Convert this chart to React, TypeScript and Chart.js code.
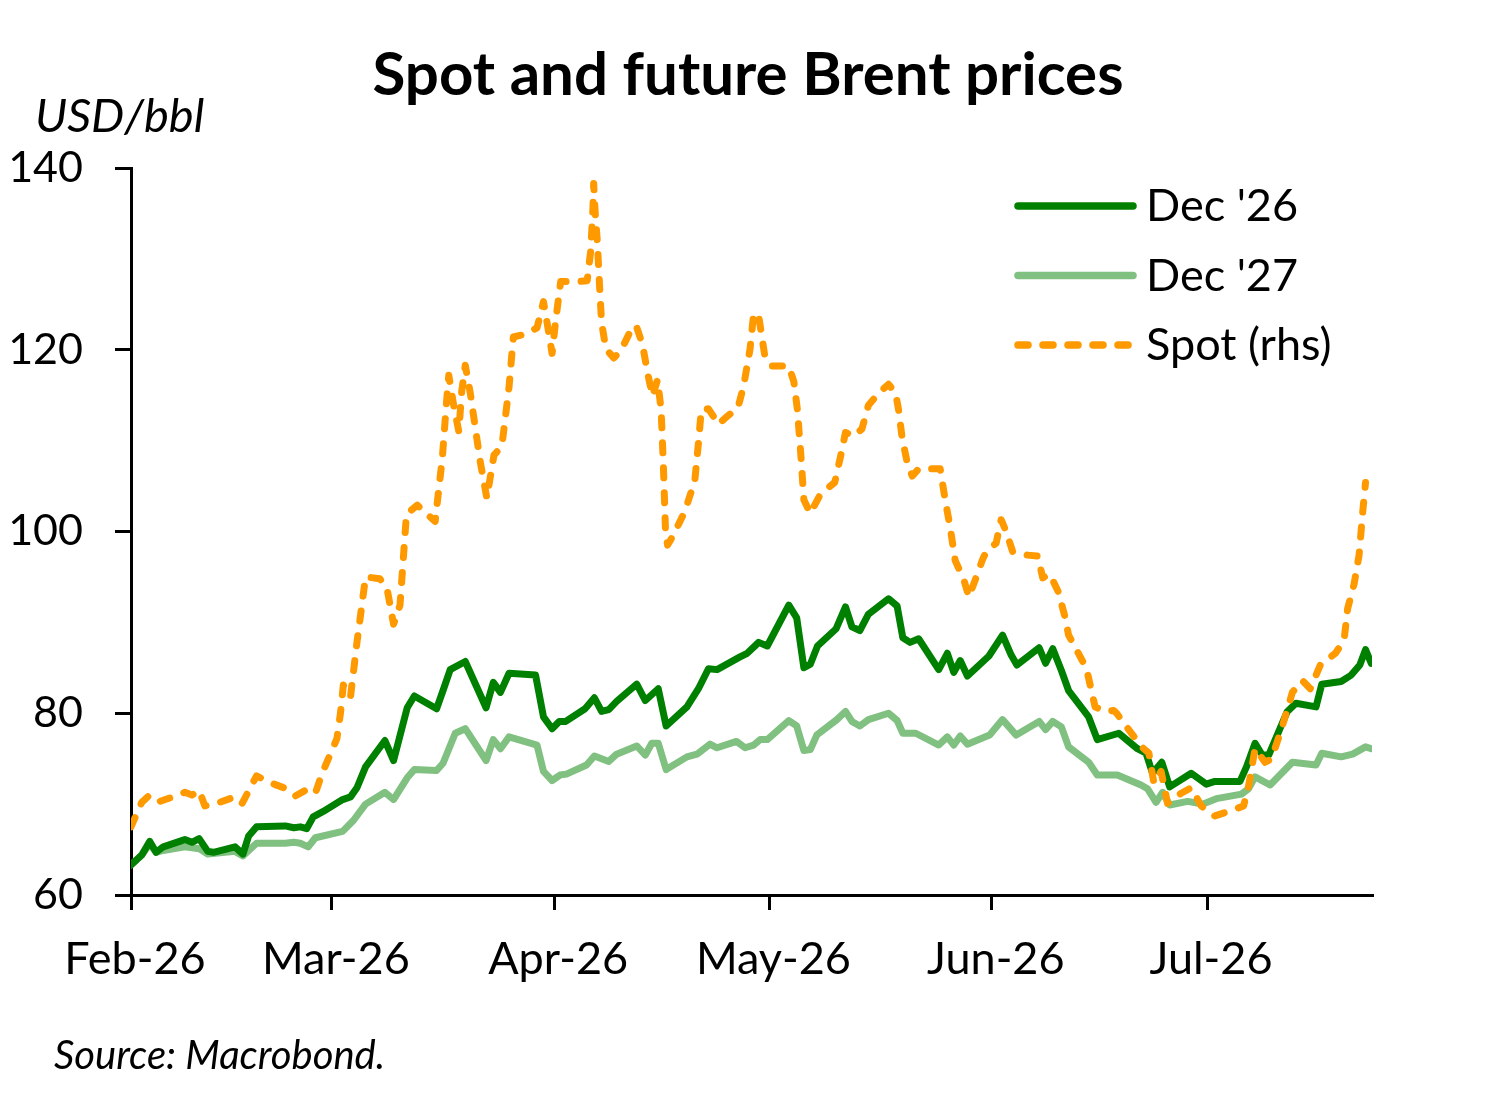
import { useEffect, useRef } from 'react';
import { Chart, registerables } from 'chart.js';

Chart.register(...registerables);

const FONT = 'Lato, "Open Sans", sans-serif';

const titleText = 'Spot and future Brent prices';
const unitText = 'USD/bbl';
const sourceText = 'Source: Macrobond.';

// x values are days counted from 1 Feb 2026
const monthTicks = [0, 28, 59, 89, 120, 150];
const monthLabels = ['Feb-26', 'Mar-26', 'Apr-26', 'May-26', 'Jun-26', 'Jul-26'];
const yTicks = [60, 80, 100, 120, 140];

const dec26Days = [
  0, 1.5, 2.6, 3.5, 4.5, 7.5, 8.5, 9.5, 10.7, 11.5, 14.5, 15.6, 16.4, 17.5, 21.5, 22.7, 23.6, 24.5,
  25.4, 26.8, 29.5, 30.6, 31.5, 32.7, 35.4, 36.6, 38.5, 39.5, 42.6, 43.5, 44.5, 46.6, 49.5, 50.5,
  51.5, 52.7, 56.4, 57.5, 58.7, 59.7, 60.6, 63.3, 64.6, 65.6, 66.6, 67.7, 70.5, 71.7, 73.5, 74.6,
  77.5, 79.1, 80.5, 81.7, 84.9, 85.9, 87.5, 88.7, 91.7, 92.8, 93.8, 94.7, 95.7, 98.3, 99.6, 100.5,
  101.6, 102.8, 105.6, 106.8, 107.6, 108.6, 109.8, 112.6, 113.8, 114.7, 115.6, 116.6, 119.6, 121.5,
  122.7, 123.5, 126.6, 127.5, 128.5, 129.7, 130.7, 133.5, 134.7, 137.7, 140.3, 141.5, 142.4, 143.7,
  144.8, 147.8, 149.9, 151.1, 154.6, 155.5, 156.7, 157.7, 158.6, 159.9, 161.2, 162.4, 165.2, 166.0,
  168.7, 170.1, 171.3, 172.1, 172.9,
];
const dec26Values = [
  63.3, 64.4, 65.9, 64.7, 65.3, 66.1, 65.8, 66.2, 64.8, 64.7, 65.3, 64.5, 66.5, 67.5, 67.6, 67.4, 67.5, 67.3,
  68.6, 69.2, 70.5, 70.8, 71.8, 74.1, 77.0, 74.8, 80.6, 81.9, 80.5, 82.5, 84.8, 85.7, 80.6, 83.4,
  82.3, 84.4, 84.2, 79.6, 78.3, 79.1, 79.1, 80.5, 81.7, 80.2, 80.4, 81.3, 83.2, 81.4, 82.7, 78.6,
  80.7, 82.7, 84.9, 84.8, 86.2, 86.6, 87.8, 87.4, 91.9, 90.5, 85.0, 85.4, 87.4, 89.3, 91.7, 89.5,
  89.1, 90.9, 92.6, 91.8, 88.3, 87.8, 88.2, 84.8, 86.6, 84.5, 85.8, 84.1, 86.3, 88.6,
  86.4, 85.3, 87.2, 85.5, 87.1, 84.7, 82.5, 79.6, 77.1, 77.8, 76.1, 75.6, 73.4, 74.6,
  71.9, 73.4, 72.2, 72.5, 72.5, 74.1, 76.7, 75.4, 75.4, 77.8, 80.2, 81.1, 80.7, 83.2,
  83.5, 84.2, 85.3, 87.0, 85.5,
];

const dec27Days = [
  0, 1.5, 2.6, 3.5, 4.5, 7.5, 9.5, 10.7, 14.5, 15.6, 17.5, 21.5, 22.7, 23.6, 24.7, 25.7, 29.5, 31.0,
  32.7, 35.4, 36.6, 38.5, 39.5, 42.6, 43.5, 45.2, 46.6, 49.5, 50.5, 51.5, 52.7, 56.6, 57.5, 58.7,
  59.8, 60.7, 63.5, 64.6, 66.6, 67.7, 70.5, 71.7, 72.6, 73.5, 74.6, 77.5, 78.9, 80.7, 81.7, 84.4,
  85.6, 86.8, 87.7, 88.7, 91.7, 92.8, 93.8, 94.7, 95.6, 98.4, 99.6, 100.5, 101.6, 102.8, 105.6,
  106.8, 107.6, 109.4, 112.6, 113.8, 114.7, 115.6, 116.6, 119.7, 121.5, 123.4, 126.6, 127.5, 128.5,
  129.7, 130.7, 133.5, 134.7, 137.5, 140.8, 141.7, 142.9, 143.8, 144.8, 147.3, 149.4, 151.3, 154.8,
  155.8, 156.7, 158.8, 161.9, 165.2, 166.0, 168.7, 170.3, 172.1, 172.9,
];
const dec27Values = [
  63.3, 64.4, 65.6, 64.7, 64.9, 65.3, 65.1, 64.5, 64.8, 64.3, 65.7, 65.7, 65.8, 65.7, 65.3, 66.3, 67.0, 68.2,
  70.0, 71.3, 70.5, 72.9, 73.8, 73.7, 74.5, 77.8, 78.3, 74.8, 77.1, 76.1, 77.4, 76.5, 73.6, 72.6,
  73.2, 73.3, 74.3, 75.3, 74.7, 75.5, 76.4, 75.4, 76.7, 76.7, 73.8, 75.2, 75.5, 76.6, 76.2, 76.9,
  76.2, 76.5, 77.1, 77.1, 79.2, 78.6, 75.9, 76.0, 77.6, 79.3, 80.2, 79.1, 78.6, 79.3, 80.0,
  79.2, 77.8, 77.8, 76.5, 77.4, 76.5, 77.5, 76.6, 77.6, 79.3, 77.6, 79.1, 78.2, 79.1,
  78.5, 76.3, 74.6, 73.2, 73.2, 72.1, 71.7, 70.2, 71.3, 69.9, 70.3, 70.0, 70.6, 71.1,
  71.7, 73.0, 72.1, 74.6, 74.3, 75.6, 75.2, 75.5, 76.3, 76.1,
];

const spotDays = [
  0, 1.5, 2.6, 4.0, 5.9, 7.5, 8.5, 9.5, 10.3, 12.0, 14.5, 15.5, 17.5, 19.6, 21.3, 22.9, 24.5, 25.7,
  26.6, 28.7, 29.2, 29.6, 30.6, 31.5, 32.7, 34.7, 35.7, 36.6, 37.5, 38.4, 39.9, 42.4, 43.4, 44.0,
  44.3, 45.0, 45.7, 46.1, 46.6, 47.3, 48.7, 49.6, 50.6, 51.7, 52.7, 53.3, 54.9, 56.6, 57.5, 58.0,
  58.7, 59.2, 59.9, 62.4, 63.6, 64.1, 64.4, 64.5, 64.7, 65.0, 65.4, 65.6, 66.2, 67.3, 68.3, 69.4,
  70.4, 71.3, 72.0, 72.7, 73.4, 73.9, 74.2, 74.5, 74.8, 75.6, 77.2, 78.6, 79.1, 79.5, 80.5, 81.9,
  83.0, 84.6, 85.4, 86.3, 86.8, 87.5, 88.4, 89.4, 91.7, 92.4, 92.9, 93.4, 93.8, 94.7, 96.1, 98.1,
  98.9, 99.6, 100.8, 101.9, 102.8, 104.2, 105.6, 106.6, 107.0, 107.5, 108.2, 108.9, 109.8, 112.8,
  113.5, 114.2, 114.9, 116.1, 116.8, 117.7, 118.7, 119.3, 120.6, 121.3, 122.0, 122.9, 125.0, 126.4,
  127.1, 128.1, 129.3, 130.2, 130.7, 131.8, 133.2, 134.4, 135.8, 137.0, 137.4, 138.8, 140.9, 141.9,
  142.6, 143.6, 144.5, 146.4, 147.8, 149.2, 151.1, 153.0, 155.1, 155.8, 156.7, 158.1, 159.0, 160.4,
  161.9, 163.3, 164.4, 165.8, 167.9, 169.1, 169.6, 170.5, 171.2, 171.7, 172.1,
];
const spotValues = [
  67.5, 70.2, 71.0, 70.3, 70.8, 71.3, 71.0, 71.5, 69.8, 70.1, 70.8, 70.1, 73.1, 72.3, 71.8, 70.9, 71.6, 71.2,
  73.3, 77.2, 80.0, 83.1, 81.8, 87.8, 95.0, 94.8, 93.7, 89.8, 91.9, 101.9, 102.9, 101.1, 108.1, 114.4,
  117.2, 113.8, 111.0, 115.4, 118.3, 115.2, 107.6, 103.7, 108.4, 109.4, 115.9, 121.4, 121.7, 122.4, 125.3, 123.0,
  119.6, 123.2, 127.5, 127.5, 127.6, 131.0, 135.7, 138.3, 135.2, 132.0, 125.8, 123.0, 120.1, 119.1, 119.9, 121.7,
  122.7, 120.6, 117.5, 114.9, 116.7, 113.4, 107.6, 100.4, 98.5, 99.6, 102.2, 105.6, 109.7, 113.4, 113.5, 111.8,
  112.6, 113.6, 116.0, 120.1, 124.0, 123.7, 119.1, 118.2, 118.2, 116.5, 113.4, 108.2, 103.5, 102.0, 104.1, 105.4,
  108.2, 110.9, 110.5, 111.3, 113.9, 115.2, 116.2, 115.2, 113.4, 110.3, 107.6, 106.1, 106.9, 106.9,
  103.5, 100.4, 96.8, 94.7, 92.8, 94.7, 96.9, 97.9, 98.7, 101.3, 100.0, 97.8, 97.4, 97.3,
  94.9, 95.3, 93.3, 90.6, 88.6, 87.0, 84.9, 80.7, 80.2, 80.3, 80.0, 78.5, 76.3, 75.6,
  72.3, 73.6, 70.1, 71.2, 71.8, 69.8, 68.7, 69.2, 69.8, 72.0, 76.1, 74.6, 75.0, 78.3,
  82.3, 83.6, 82.7, 85.3, 86.6, 88.0, 91.5, 94.2, 97.4, 102.1, 105.4,
];

const DARK_GREEN = '#008000';
const LIGHT_GREEN = '#80C080';
const ORANGE = '#FF9900';
const LINE_WIDTH = 7;
const SPOT_DASH = [10, 15];

const legendItems = [
  { label: "Dec '26", color: DARK_GREEN, dash: [] as number[] },
  { label: "Dec '27", color: LIGHT_GREEN, dash: [] as number[] },
  { label: 'Spot (rhs)', color: ORANGE, dash: SPOT_DASH },
];

const toPoints = (days: number[], values: number[]) => days.map((d, i) => ({ x: d, y: values[i] }));

const overlayPlugin = {
  id: 'overlay',
  afterDraw(chart: Chart) {
    const ctx = chart.ctx;
    ctx.save();
    ctx.fillStyle = '#000';
    ctx.textBaseline = 'alphabetic';

    ctx.textAlign = 'center';
    ctx.font = `bold 60px ${FONT}`;
    ctx.fillText(titleText, 748, 95);

    ctx.textAlign = 'left';
    ctx.font = `italic 47px ${FONT}`;
    ctx.fillText(unitText, 35, 132);

    ctx.font = `italic 40px ${FONT}`;
    ctx.fillText(sourceText, 54, 1069);

    // legend, top right inside the plot
    legendItems.forEach((item, i) => {
      const y = 206 + i * 69.5;
      ctx.beginPath();
      ctx.strokeStyle = item.color;
      ctx.lineWidth = 7.5;
      ctx.lineCap = 'round';
      ctx.setLineDash(item.dash);
      ctx.moveTo(1018, y);
      ctx.lineTo(1133, y);
      ctx.stroke();
      ctx.setLineDash([]);
      ctx.fillStyle = '#000';
      ctx.font = `45px ${FONT}`;
      ctx.fillText(item.label, 1146, y + 15);
    });
    ctx.restore();
  },
};

const BrentChart = () => {
  const canvasRef = useRef<HTMLCanvasElement | null>(null);
  const chartRef = useRef<Chart | null>(null);

  useEffect(() => {
    if (!canvasRef.current) return;
    const ctx = canvasRef.current.getContext('2d');
    if (!ctx) return;

    if (chartRef.current) chartRef.current.destroy();

    chartRef.current = new Chart(ctx, {
      type: 'line',
      data: {
        datasets: [
          {
            label: 'Spot (rhs)',
            data: toPoints(spotDays, spotValues),
            borderColor: ORANGE,
            borderWidth: LINE_WIDTH,
            borderDash: SPOT_DASH,
            borderCapStyle: 'round',
            borderJoinStyle: 'round',
            pointRadius: 0,
            tension: 0,
            order: 0,
          },
          {
            label: "Dec '26",
            data: toPoints(dec26Days, dec26Values),
            borderColor: DARK_GREEN,
            borderWidth: LINE_WIDTH,
            borderJoinStyle: 'round',
            borderCapStyle: 'round',
            pointRadius: 0,
            tension: 0,
            order: 1,
          },
          {
            label: "Dec '27",
            data: toPoints(dec27Days, dec27Values),
            borderColor: LIGHT_GREEN,
            borderWidth: LINE_WIDTH,
            borderJoinStyle: 'round',
            borderCapStyle: 'round',
            pointRadius: 0,
            tension: 0,
            order: 2,
          },
        ],
      },
      options: {
        animation: false,
        responsive: true,
        maintainAspectRatio: false,
        devicePixelRatio: 1,
        layout: { padding: { top: 168, right: 124, bottom: 0, left: 0 } },
        plugins: {
          legend: { display: false },
          title: { display: false },
          tooltip: { enabled: false },
        },
        scales: {
          x: {
            type: 'linear',
            min: 0,
            max: 173.0,
            afterBuildTicks: (scale: any) => {
              scale.ticks = monthTicks.map((v) => ({ value: v }));
            },
            afterFit: (scale: any) => {
              scale.height = 201;
            },
            ticks: {
              callback: (_v: any, i: number) => monthLabels[i],
              font: { family: FONT, size: 45 },
              color: '#000',
              padding: 22,
              labelOffset: 4,
              maxRotation: 0,
              autoSkip: false,
            },
            grid: { drawOnChartArea: false, drawTicks: true, tickLength: 15, color: '#000', lineWidth: 3 },
            border: { display: true, color: '#000', width: 3 },
          },
          y: {
            min: 60,
            max: 140,
            afterBuildTicks: (scale: any) => {
              scale.ticks = yTicks.map((v) => ({ value: v }));
            },
            afterFit: (scale: any) => {
              scale.width = 131;
            },
            ticks: { font: { family: FONT, size: 43 }, color: '#000', padding: 32 },
            grid: { drawOnChartArea: false, drawTicks: true, tickLength: 16, color: '#000', lineWidth: 3 },
            border: { display: true, color: '#000', width: 3 },
          },
        },
      },
      plugins: [overlayPlugin],
    });

    return () => {
      if (chartRef.current) {
        chartRef.current.destroy();
        chartRef.current = null;
      }
    };
  }, []);

  return (
    <div style={{ position: 'fixed', left: 0, top: 0, width: 1496, height: 1096, background: '#fff' }}>
      <canvas ref={canvasRef}></canvas>
    </div>
  );
};

export default function App() {
  return <BrentChart />;
}
